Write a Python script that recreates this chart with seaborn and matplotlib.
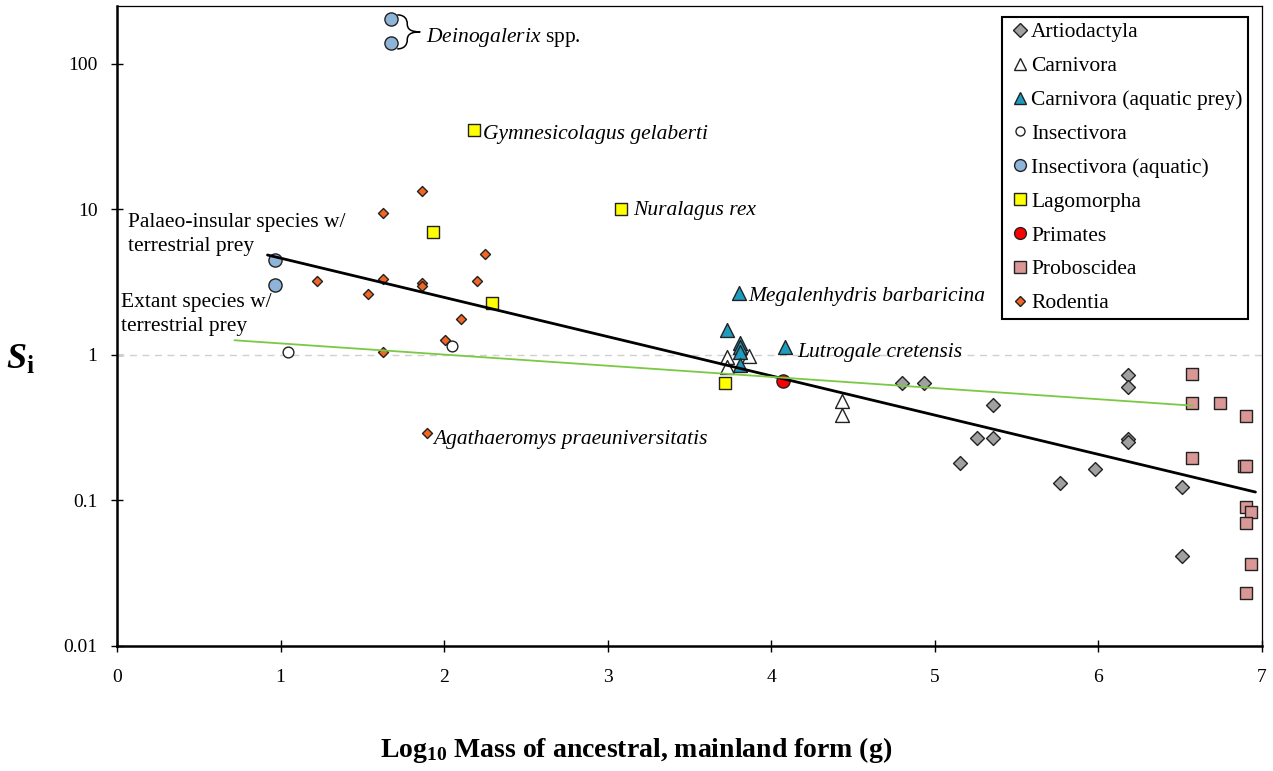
import matplotlib
matplotlib.use("Agg")
import numpy as np
import pandas as pd
import matplotlib.pyplot as plt
import seaborn as sns
from matplotlib.lines import Line2D
from matplotlib.path import Path
from matplotlib.patches import PathPatch
import matplotlib.transforms as mtransforms
from matplotlib.ticker import FixedLocator, FixedFormatter, NullLocator

# ---------------- data (log10 mass, Si) ----------------
artio_x = [4.80, 4.935, 5.155, 5.26, 5.355, 5.355, 5.765, 5.98, 6.18, 6.18, 6.18, 6.18, 6.51, 6.51]
artio_y = [0.638, 0.645, 0.182, 0.270, 0.270, 0.451, 0.132, 0.165, 0.732, 0.600, 0.265, 0.254, 0.124, 0.0413]

carn_x = [3.727, 3.727, 3.866, 4.43, 4.43]
carn_y = [0.975, 0.82, 0.985, 0.485, 0.385]

carnaq_x = [3.727, 3.805, 3.807, 3.807, 3.807, 3.807, 4.084]
carnaq_y = [1.49, 2.68, 1.21, 1.13, 1.05, 0.85, 1.14]

insect_x = [1.048, 2.048]
insect_y = [1.05, 1.15]

insectaq_x = [0.967, 0.967, 1.675, 1.675]
insectaq_y = [4.5, 3.03, 205, 140]

lago_x = [1.93, 2.18, 2.295, 3.08, 3.717]
lago_y = [7.0, 35.2, 2.28, 10.0, 0.645]

prim_x = [4.072]
prim_y = [0.663]

probo_x = [6.569, 6.569, 6.744, 6.905, 6.569, 6.89, 6.905, 6.905, 6.934, 6.905, 6.934, 6.905]
probo_y = [0.744, 0.470, 0.470, 0.381, 0.195, 0.172, 0.172, 0.0906, 0.0838, 0.0705, 0.0364, 0.0232]

rod_x = [1.222, 1.532, 1.626, 1.626, 1.626, 1.866, 1.867, 1.867, 1.893, 2.007, 2.105, 2.203, 2.248]
rod_y = [3.21, 2.61, 9.4, 3.31, 1.05, 13.4, 3.11, 2.98, 0.292, 1.26, 1.77, 3.21, 4.92]

# regression lines: log10(Si) = a + b * log10(mass)
palaeo_range = [0.92, 6.96]
palaeo_a, palaeo_b = 0.935, -0.2697
extant_range = [0.718, 6.577]
extant_a, extant_b = 0.156, -0.0767

x_ticks = [0, 1, 2, 3, 4, 5, 6, 7]
y_ticks = [0.01, 0.1, 1, 10, 100]
y_tick_labels = ["0.01", "0.1", "1", "10", "100"]

group_names = ["Artiodactyla", "Carnivora", "Carnivora (aquatic prey)", "Insectivora",
               "Insectivora (aquatic)", "Lagomorpha", "Primates", "Proboscidea", "Rodentia"]
group_x = [artio_x, carn_x, carnaq_x, insect_x, insectaq_x, lago_x, prim_x, probo_x, rod_x]
group_y = [artio_y, carn_y, carnaq_y, insect_y, insectaq_y, lago_y, prim_y, probo_y, rod_y]

# ---------------- styles ----------------
styles = {
    "Artiodactyla": dict(marker="D", color="#A0A0A0", s=50, lsize=7.5),
    "Carnivora": dict(marker="^", color="white", s=100, lsize=9),
    "Carnivora (aquatic prey)": dict(marker="^", color="#1E9CC0", s=100, lsize=9),
    "Insectivora": dict(marker="o", color="white", s=60, lsize=6.5),
    "Insectivora (aquatic)": dict(marker="o", color="#8FB4D9", s=90, lsize=8.5),
    "Lagomorpha": dict(marker="s", color="#FFFF00", s=85, lsize=8),
    "Primates": dict(marker="o", color="#FF0000", s=90, lsize=8.5),
    "Proboscidea": dict(marker="s", color="#D99795", s=85, lsize=8),
    "Rodentia": dict(marker="D", color="#F26522", s=26, lsize=5.5),
}

sns.set_style("ticks")
plt.rcParams["font.family"] = ["Liberation Serif", "DejaVu Serif"]
plt.rcParams["text.color"] = "black"
plt.rcParams["axes.labelcolor"] = "black"
plt.rcParams["xtick.color"] = "black"
plt.rcParams["ytick.color"] = "black"
plt.rcParams["mathtext.fontset"] = "custom"
plt.rcParams["mathtext.rm"] = "Liberation Serif"
plt.rcParams["mathtext.it"] = "Liberation Serif:italic"
plt.rcParams["mathtext.bf"] = "Liberation Serif:bold"
plt.rcParams["mathtext.bfit"] = "Liberation Serif:italic:bold"

fig = plt.figure(figsize=(12.73, 7.71), dpi=100)
ax = fig.add_axes([117 / 1273, 1 - 646 / 771, 1145 / 1273, 640 / 771])

for name, xs, ys in zip(group_names, group_x, group_y):
    st = styles[name]
    df = pd.DataFrame({"x": xs, "y": ys})
    sns.scatterplot(data=df, x="x", y="y", ax=ax, marker=st["marker"], s=st["s"],
                    color=st["color"], edgecolor="#222222", linewidth=1.0,
                    zorder=3, legend=False)

# regression lines
px = np.array(palaeo_range)
ex = np.array(extant_range)
sns.lineplot(x=px, y=10 ** (palaeo_a + palaeo_b * px), ax=ax, color="black", lw=2, zorder=4)
sns.lineplot(x=ex, y=10 ** (extant_a + extant_b * ex), ax=ax, color="#7AC943", lw=1.3, zorder=4)

ax.axhline(1, color="#D0D0D0", lw=1, ls=(0, (5, 4)), zorder=1)

ax.set_yscale("log")
ax.set_xlim(0, 7)
ax.set_ylim(0.01, 250)
ax.xaxis.set_major_locator(FixedLocator(x_ticks))
ax.yaxis.set_major_locator(FixedLocator(y_ticks))
ax.yaxis.set_major_formatter(FixedFormatter(y_tick_labels))
ax.yaxis.set_minor_locator(NullLocator())
ax.tick_params(axis="both", direction="inout", length=9, width=1, color="black",
               labelsize=14, labelcolor="black")
ax.tick_params(axis="x", pad=12)
ax.tick_params(axis="y", pad=9.5)

for side in ["left", "bottom"]:
    ax.spines[side].set_linewidth(1.8)
    ax.spines[side].set_color("black")
for side in ["top", "right"]:
    ax.spines[side].set_visible(True)
    ax.spines[side].set_linewidth(0.9)
    ax.spines[side].set_color("black")

ax.set_xlabel(r"Log$_{\mathbf{10}}$ Mass of ancestral, mainland form (g)", fontsize=20,
              fontweight="bold")
ax.xaxis.set_label_coords((636.5 - 117) / 1145, (646 - 750) / 640)
ax.xaxis.label.set_va("center")
ax.set_ylabel(r"$\mathbfit{S}_{\mathbf{i}}$", fontsize=26, rotation=0)
ax.yaxis.set_label_coords((21 - 117) / 1145, (646 - 360) / 640)
ax.yaxis.label.set_va("center")
ax.yaxis.label.set_ha("center")

# species annotations
ann_kw = dict(textcoords="offset points", fontsize=15.5, style="italic", va="center", ha="left")
ax.annotate("Gymnesicolagus gelaberti", xy=(lago_x[1], lago_y[1]), xytext=(6.5, -3), **ann_kw)
ax.annotate("Nuralagus rex", xy=(lago_x[3], lago_y[3]), xytext=(9, -0.5), **ann_kw)
ax.annotate("Megalenhydris barbaricina", xy=(carnaq_x[1], carnaq_y[1]), xytext=(6.5, -3), **ann_kw)
ax.annotate("Lutrogale cretensis", xy=(carnaq_x[6], carnaq_y[6]), xytext=(8.5, -4.5), **ann_kw)
ax.annotate("Agathaeromys praeuniversitatis", xy=(rod_x[8], rod_y[8]), xytext=(4.5, -4.5), **ann_kw)

# Deinogalerix with brace
ax.text(1.891, 151, r"$\mathit{Deinogalerix}$ spp.", fontsize=15.5, va="center", ha="left")
brace_verts = [(-23, 17), (-16, 17), (-13, 13), (-13, 8),
               (-13, 3), (-10, 0), (0, 0),
               (-10, 0), (-13, -3), (-13, -8),
               (-13, -13), (-16, -17), (-23, -17)]
brace_codes = [Path.MOVETO] + [Path.CURVE4] * 12
brace_tf = mtransforms.Affine2D().scale(fig.dpi / 100.0) + \
    mtransforms.ScaledTranslation(1.854, 166, ax.transData)
ax.add_patch(PathPatch(Path(brace_verts, brace_codes), facecolor="none",
                       edgecolor="black", lw=1.1, transform=brace_tf, clip_on=False))

# line labels
ax.text(0.067, 9.5, "Palaeo-insular species w/\nterrestrial prey", fontsize=15.5,
        va="top", ha="left", linespacing=1.4)
ax.text(0.024, 2.67, "Extant species w/\nterrestrial prey", fontsize=15.5,
        va="top", ha="left", linespacing=1.4)

# legend
handles = []
for name in group_names:
    st = styles[name]
    handles.append(Line2D([], [], ls="none", marker=st["marker"], markersize=st["lsize"],
                          markerfacecolor=st["color"], markeredgecolor="#222222",
                          markeredgewidth=1.0, label=name))
leg = ax.legend(handles=handles, loc="upper right", bbox_to_anchor=((1248 - 117) / 1145, (646 - 17) / 640),
                fontsize=15.5, frameon=True, fancybox=False, framealpha=1, edgecolor="black",
                borderpad=0.25, labelspacing=0.64, handlelength=1.2, handletextpad=-0.1,
                borderaxespad=0)
leg.get_frame().set_linewidth(1.5)

fig.savefig("out.png", dpi=100)
